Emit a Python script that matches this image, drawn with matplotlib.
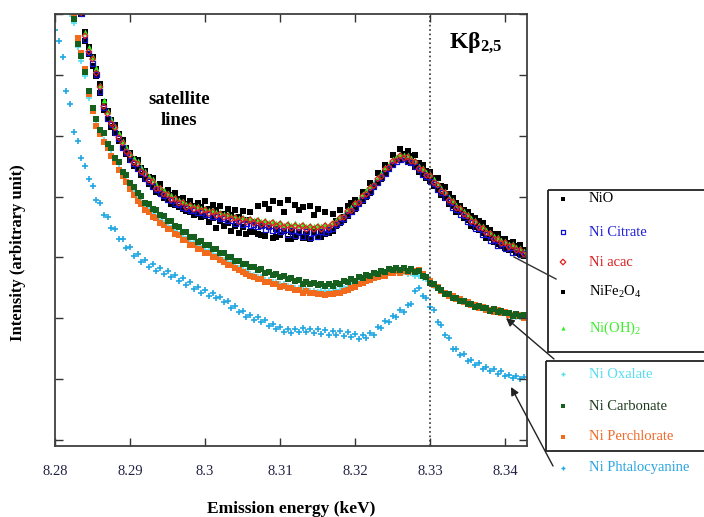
import numpy as np
import matplotlib
matplotlib.use("Agg")
import matplotlib.pyplot as plt
from matplotlib.patches import Rectangle

plt.rcParams['font.family'] = ['Liberation Serif', 'DejaVu Serif']
plt.rcParams['mathtext.fontset'] = 'custom'
plt.rcParams['mathtext.rm'] = 'Liberation Serif'
plt.rcParams['mathtext.bf'] = 'Liberation Serif:bold'
plt.rcParams['mathtext.it'] = 'Liberation Serif:italic'

# emission energy grid (keV), 0.0005 keV steps
energy = np.linspace(8.2800, 8.3425, 126)

nio = [9.0, 8.7, 8.4, 8.1, 7.8, 7.5, 7.3, 7.0, 6.70, 6.35,
       6.30, 5.98, 5.85, 5.42, 5.40, 5.15, 5.18, 4.92, 4.93, 4.70,
       4.72, 4.50, 4.60, 4.36, 4.42, 4.20, 4.30, 4.08, 4.20, 3.98,
       4.10, 3.88, 4.05, 3.82, 3.98, 3.76, 3.93, 3.70, 3.90, 3.66,
       3.92, 3.58, 3.86, 3.48, 3.84, 3.52, 3.80, 3.44, 3.78, 3.40,
       3.76, 3.38, 3.74, 3.42, 3.84, 3.36, 3.88, 3.80, 3.92, 3.34,
       3.90, 3.74, 3.94, 3.30, 3.86, 3.78, 3.82, 3.32, 3.85, 3.70,
       3.80, 3.34, 3.74, 3.40, 3.72, 3.60, 3.78, 3.66, 3.84, 3.90,
       3.95, 3.90, 4.08, 4.00, 4.22, 4.15, 4.38, 4.28, 4.52, 4.45,
       4.68, 4.60, 4.78, 4.62, 4.75, 4.55, 4.68, 4.40, 4.52, 4.30,
       4.40, 4.18, 4.30, 4.02, 4.15, 3.88, 3.98, 3.75, 3.85, 3.65,
       3.75, 3.52, 3.64, 3.45, 3.56, 3.32, 3.45, 3.25, 3.38, 3.18,
       3.30, 3.12, 3.25, 3.08, 3.20, 3.02]

ni_citrate = [9.0, 8.7, 8.4, 8.1, 7.8, 7.5, 7.2, 7.0, 6.58, 6.36,
              6.18, 6.00, 5.72, 5.46, 5.28, 5.18, 5.05, 4.95, 4.80, 4.72,
              4.60, 4.54, 4.46, 4.39, 4.29, 4.25, 4.16, 4.11, 4.05, 4.02,
              3.95, 3.93, 3.88, 3.87, 3.82, 3.80, 3.77, 3.77, 3.73, 3.74,
              3.70, 3.70, 3.67, 3.67, 3.63, 3.64, 3.60, 3.61, 3.56, 3.58,
              3.54, 3.56, 3.52, 3.54, 3.50, 3.52, 3.46, 3.50, 3.44, 3.46,
              3.42, 3.45, 3.38, 3.44, 3.36, 3.42, 3.34, 3.42, 3.32, 3.40,
              3.34, 3.42, 3.40, 3.46, 3.48, 3.54, 3.58, 3.64, 3.70, 3.76,
              3.82, 3.88, 3.95, 4.02, 4.08, 4.16, 4.23, 4.31, 4.38, 4.46,
              4.52, 4.58, 4.60, 4.62, 4.58, 4.56, 4.50, 4.44, 4.36, 4.33,
              4.25, 4.21, 4.11, 4.07, 3.98, 3.92, 3.82, 3.78, 3.70, 3.68,
              3.58, 3.57, 3.48, 3.47, 3.38, 3.38, 3.28, 3.30, 3.20, 3.22,
              3.14, 3.16, 3.08, 3.12, 3.04, 3.06]

ni_acac = [9.0, 8.7, 8.4, 8.1, 7.8, 7.5, 7.2, 7.02, 6.64, 6.38,
           6.26, 6.03, 5.80, 5.48, 5.36, 5.20, 5.13, 4.97, 4.88, 4.74,
           4.68, 4.56, 4.54, 4.41, 4.37, 4.27, 4.24, 4.13, 4.13, 4.04,
           4.03, 3.95, 3.96, 3.89, 3.90, 3.82, 3.85, 3.79, 3.81, 3.76,
           3.78, 3.72, 3.75, 3.69, 3.71, 3.66, 3.68, 3.63, 3.65, 3.59,
           3.63, 3.58, 3.62, 3.56, 3.60, 3.54, 3.58, 3.53, 3.57, 3.51,
           3.55, 3.49, 3.53, 3.48, 3.52, 3.48, 3.52, 3.46, 3.50, 3.46,
           3.50, 3.46, 3.52, 3.49, 3.55, 3.56, 3.65, 3.66, 3.76, 3.77,
           3.88, 3.90, 4.01, 4.04, 4.14, 4.18, 4.29, 4.33, 4.45, 4.48,
           4.58, 4.59, 4.67, 4.63, 4.65, 4.58, 4.57, 4.46, 4.44, 4.35,
           4.34, 4.23, 4.19, 4.09, 4.06, 3.94, 3.91, 3.81, 3.80, 3.71,
           3.68, 3.59, 3.58, 3.49, 3.48, 3.40, 3.39, 3.30, 3.30, 3.23,
           3.24, 3.17, 3.19, 3.12, 3.12, 3.05]

nife2o4 = [9.1, 8.8, 8.5, 8.2, 7.9, 7.6, 7.3, 7.1, 6.55, 6.45,
           6.15, 6.10, 5.70, 5.55, 5.28, 5.25, 5.05, 5.02, 4.80, 4.80,
           4.60, 4.62, 4.45, 4.47, 4.28, 4.32, 4.15, 4.18, 4.05, 4.08,
           3.95, 4.02, 3.86, 3.96, 3.80, 3.88, 3.75, 3.84, 3.72, 3.82,
           3.68, 3.80, 3.64, 3.78, 3.60, 3.72, 3.56, 3.70, 3.52, 3.66,
           3.50, 3.62, 3.42, 3.58, 3.38, 3.52, 3.35, 3.50, 3.32, 3.46,
           3.36, 3.44, 3.30, 3.42, 3.34, 3.40, 3.32, 3.38, 3.30, 3.42,
           3.34, 3.40, 3.38, 3.46, 3.44, 3.52, 3.56, 3.62, 3.68, 3.74,
           3.80, 3.88, 3.92, 4.02, 4.06, 4.16, 4.22, 4.32, 4.38, 4.48,
           4.52, 4.62, 4.60, 4.70, 4.58, 4.66, 4.48, 4.55, 4.36, 4.42,
           4.26, 4.30, 4.12, 4.18, 3.98, 4.04, 3.84, 3.90, 3.74, 3.78,
           3.62, 3.68, 3.50, 3.60, 3.40, 3.48, 3.32, 3.38, 3.22, 3.30,
           3.16, 3.24, 3.12, 3.18, 3.05, 3.12]

ni_oh2 = [9.0, 8.7, 8.4, 8.1, 7.8, 7.5, 7.25, 7.08, 6.70, 6.46,
          6.30, 6.12, 5.84, 5.58, 5.40, 5.28, 5.16, 5.05, 4.92, 4.82,
          4.72, 4.63, 4.58, 4.48, 4.42, 4.34, 4.28, 4.20, 4.16, 4.11,
          4.06, 4.02, 3.99, 3.95, 3.93, 3.88, 3.88, 3.85, 3.84, 3.81,
          3.81, 3.78, 3.78, 3.75, 3.74, 3.71, 3.71, 3.68, 3.68, 3.64,
          3.66, 3.63, 3.65, 3.61, 3.63, 3.59, 3.61, 3.58, 3.60, 3.56,
          3.58, 3.54, 3.56, 3.53, 3.56, 3.53, 3.55, 3.51, 3.54, 3.51,
          3.53, 3.51, 3.55, 3.54, 3.58, 3.62, 3.68, 3.72, 3.79, 3.83,
          3.91, 3.96, 4.04, 4.10, 4.17, 4.24, 4.32, 4.39, 4.48, 4.54,
          4.61, 4.65, 4.70, 4.68, 4.68, 4.63, 4.60, 4.51, 4.47, 4.40,
          4.37, 4.28, 4.22, 4.14, 4.09, 3.99, 3.94, 3.86, 3.83, 3.76,
          3.71, 3.64, 3.61, 3.54, 3.51, 3.45, 3.42, 3.35, 3.33, 3.28,
          3.27, 3.22, 3.22, 3.17, 3.15, 3.10]

ni_oxalate = [8.1, 7.8, 7.5, 7.25, 7.0, 6.85, 6.45, 6.22, 5.98, 5.62,
              5.40, 5.18, 5.05, 4.93, 4.80, 4.70, 4.58, 4.47, 4.36, 4.26,
              4.15, 4.07, 3.98, 3.91, 3.83, 3.78, 3.72, 3.67, 3.61, 3.57,
              3.51, 3.49, 3.43, 3.39, 3.33, 3.31, 3.25, 3.23, 3.18, 3.16,
              3.12, 3.10, 3.05, 3.03, 2.99, 2.96, 2.92, 2.90, 2.86, 2.83,
              2.80, 2.77, 2.73, 2.71, 2.68, 2.67, 2.63, 2.63, 2.60, 2.59,
              2.56, 2.56, 2.53, 2.52, 2.50, 2.49, 2.47, 2.47, 2.45, 2.45,
              2.43, 2.44, 2.43, 2.44, 2.44, 2.46, 2.47, 2.49, 2.51, 2.54,
              2.56, 2.60, 2.62, 2.66, 2.67, 2.70, 2.71, 2.74, 2.74, 2.77,
              2.76, 2.78, 2.74, 2.76, 2.72, 2.74, 2.70, 2.70, 2.66, 2.64,
              2.58, 2.53, 2.49, 2.44, 2.41, 2.37, 2.35, 2.31, 2.30, 2.26,
              2.25, 2.21, 2.20, 2.17, 2.16, 2.14, 2.13, 2.11, 2.11, 2.08,
              2.08, 2.05, 2.04, 2.02, 2.02, 2.00]

ni_carbonate = [8.2, 7.9, 7.6, 7.35, 7.12, 6.92, 6.50, 6.31, 6.05, 5.74,
                5.45, 5.28, 5.10, 5.04, 4.87, 4.80, 4.64, 4.57, 4.41, 4.36,
                4.22, 4.16, 4.05, 4.01, 3.90, 3.88, 3.79, 3.78, 3.69, 3.68,
                3.59, 3.60, 3.51, 3.50, 3.41, 3.42, 3.33, 3.34, 3.26, 3.27,
                3.20, 3.21, 3.13, 3.14, 3.07, 3.07, 3.00, 3.01, 2.94, 2.94,
                2.89, 2.89, 2.84, 2.84, 2.79, 2.81, 2.74, 2.76, 2.71, 2.73,
                2.67, 2.70, 2.64, 2.66, 2.61, 2.63, 2.57, 2.60, 2.56, 2.58,
                2.54, 2.57, 2.53, 2.57, 2.53, 2.58, 2.56, 2.61, 2.59, 2.65,
                2.62, 2.68, 2.66, 2.71, 2.69, 2.75, 2.72, 2.78, 2.76, 2.81,
                2.79, 2.83, 2.80, 2.83, 2.78, 2.81, 2.76, 2.78, 2.70, 2.67,
                2.58, 2.56, 2.49, 2.46, 2.40, 2.39, 2.34, 2.34, 2.29, 2.29,
                2.24, 2.24, 2.19, 2.20, 2.16, 2.17, 2.12, 2.15, 2.11, 2.12,
                2.08, 2.09, 2.04, 2.07, 2.03, 2.05]

ni_perchlorate = [8.3, 8.0, 7.7, 7.4, 7.15, 6.95, 6.60, 6.36, 6.10, 5.68,
                  5.40, 5.16, 5.02, 4.90, 4.79, 4.66, 4.56, 4.44, 4.34, 4.24,
                  4.12, 4.03, 3.93, 3.87, 3.78, 3.74, 3.67, 3.64, 3.57, 3.54,
                  3.47, 3.46, 3.39, 3.36, 3.29, 3.28, 3.21, 3.20, 3.14, 3.13,
                  3.08, 3.07, 3.01, 3.00, 2.95, 2.93, 2.88, 2.87, 2.82, 2.80,
                  2.76, 2.73, 2.69, 2.67, 2.64, 2.64, 2.59, 2.60, 2.56, 2.56,
                  2.52, 2.53, 2.49, 2.49, 2.46, 2.46, 2.42, 2.44, 2.41, 2.41,
                  2.39, 2.40, 2.38, 2.40, 2.39, 2.42, 2.42, 2.45, 2.46, 2.50,
                  2.52, 2.57, 2.58, 2.62, 2.63, 2.66, 2.67, 2.70, 2.70, 2.74,
                  2.74, 2.77, 2.75, 2.78, 2.76, 2.80, 2.78, 2.79, 2.72, 2.68,
                  2.61, 2.54, 2.51, 2.44, 2.42, 2.37, 2.36, 2.31, 2.31, 2.26,
                  2.26, 2.21, 2.21, 2.17, 2.18, 2.14, 2.14, 2.11, 2.13, 2.08,
                  2.10, 2.06, 2.06, 2.03, 2.05, 2.01]

ni_phtalocyanine = [6.73, 6.55, 6.30, 5.74, 5.52, 5.06, 4.92, 4.64, 4.50, 4.28,
                    4.18, 3.95, 3.89, 3.70, 3.66, 3.49, 3.46, 3.31, 3.31, 3.16,
                    3.17, 3.03, 3.05, 2.93, 2.95, 2.85, 2.89, 2.78, 2.82, 2.73,
                    2.77, 2.68, 2.71, 2.61, 2.66, 2.55, 2.59, 2.48, 2.51, 2.42,
                    2.47, 2.37, 2.42, 2.33, 2.35, 2.26, 2.28, 2.17, 2.20, 2.10,
                    2.12, 2.02, 2.05, 1.97, 2.02, 1.94, 1.97, 1.87, 1.90, 1.83,
                    1.85, 1.78, 1.82, 1.76, 1.82, 1.77, 1.84, 1.78, 1.82, 1.76,
                    1.82, 1.74, 1.80, 1.73, 1.79, 1.73, 1.79, 1.71, 1.77, 1.69,
                    1.74, 1.66, 1.72, 1.67, 1.75, 1.73, 1.85, 1.84, 1.95, 1.94,
                    2.04, 2.02, 2.13, 2.11, 2.21, 2.24, 2.44, 2.49, 2.37, 2.33,
                    2.19, 2.13, 1.94, 1.89, 1.73, 1.67, 1.50, 1.49, 1.40, 1.41,
                    1.30, 1.32, 1.23, 1.26, 1.17, 1.20, 1.14, 1.16, 1.09, 1.13,
                    1.05, 1.07, 1.01, 1.05, 1.00, 1.03]

# name, values, marker, colour, filled, size (scatter s)
series = [
    ("Ni Phtalocyanine", ni_phtalocyanine, '+', '#1fa7e2', True, 20),
    ("Ni Oxalate", ni_oxalate, '+', '#55ddf0', True, 20),
    ("Ni Perchlorate", ni_perchlorate, 's', '#f26a1b', True, 15),
    ("Ni Carbonate", ni_carbonate, 's', '#15601f', True, 15),
    ("NiFe$_2$O$_4$", nife2o4, 's', '#000000', True, 14),
    ("NiO", nio, 's', '#000000', True, 14),
    ("Ni(OH)$_2$", ni_oh2, '^', '#2ef020', True, 18),
    ("Ni Citrate", ni_citrate, 's', '#1010d0', False, 12),
    ("Ni acac", ni_acac, 'D', '#e02020', False, 8),
]

fig = plt.figure(figsize=(7.04, 5.17), dpi=100)
ax = fig.add_axes([55 / 704, 71 / 517, 472 / 704, 432 / 517])

for name, vals, m, c, filled, s in series:
    if m == '+':
        ax.scatter(energy, vals, marker=m, s=s, color=c, linewidths=1.2)
    elif filled:
        ax.scatter(energy, vals, marker=m, s=s, color=c, linewidths=0)
    else:
        ax.scatter(energy, vals, marker=m, s=s, facecolors='none',
                   edgecolors=c, linewidths=0.9)

ax.axvline(8.33, color='#333333', ls=':', lw=1.2)

ax.set_xlim(8.28, 8.3429)
ax.set_ylim(-0.1, 7.0)
ax.set_xticks([8.28, 8.29, 8.30, 8.31, 8.32, 8.33, 8.34])
ax.set_xticklabels(['8.28', '8.29', '8.3', '8.31', '8.32', '8.33', '8.34'])
ax.set_yticks(range(8))
ax.set_yticklabels([])
ax.tick_params(direction='in', top=True, right=True, length=6, width=1,
               color='#333333', labelsize=10.5, pad=14, labelcolor='#222244')
for sp in ax.spines.values():
    sp.set_color('#404040')
    sp.set_linewidth(1.3)

ax.set_xlabel("Emission energy (keV)", fontsize=12.5, fontweight='bold',
              labelpad=16)
fig.text(18 / 704, 1 - 253 / 517, "Intensity (arbitrary unit)", rotation=90,
         fontsize=12, fontweight='bold', ha='center', va='center')

ax.text(8.2965, 5.42, "satellite\nlines", fontsize=13.5, fontweight='bold',
        ha='center', va='center', linespacing=1.3)
ax.text(8.3325, 6.52, r"$\mathbf{K\beta_{2{,}5}}$", fontsize=17,
        ha='left', va='center')

# legend panel drawn in figure pixels
ov = fig.add_axes([0, 0, 1, 1], facecolor='none')
ov.set_xlim(0, 704)
ov.set_ylim(517, 0)
ov.axis('off')

ov.add_patch(Rectangle((548, 190), 170, 162, fill=False, ec='#222222', lw=1.3))
ov.add_patch(Rectangle((546, 361), 170, 90, fill=False, ec='#222222', lw=1.3))

legend_rows = [
    ("NiO", 199, 's', '#000000', True, '#000000'),
    ("Ni Citrate", 232, 's', '#1010d0', False, '#2020d8'),
    ("Ni acac", 262, 'D', '#e02020', False, '#d82020'),
    ("NiFe$_2$O$_4$", 292, 's', '#000000', True, '#000000'),
    ("Ni(OH)$_2$", 328, '^', '#2ef020', True, '#3cee2c'),
    ("Ni Oxalate", 374, '+', '#55ddf0', True, '#55ddf0'),
    ("Ni Carbonate", 406, 's', '#15601f', True, '#1e3a1e'),
    ("Ni Perchlorate", 437, 's', '#f26a1b', True, '#f06a28'),
    ("Ni Phtalocyanine", 468, '+', '#1fa7e2', True, '#2aa4e0'),
]
for label, y, m, c, filled, tc in legend_rows:
    if m == '+':
        ov.scatter([563], [y], marker=m, s=12, color=c, linewidths=1)
    elif filled:
        ov.scatter([563], [y], marker=m, s=9, color=c, linewidths=0)
    else:
        ov.scatter([563], [y], marker=m, s=8, facecolors='none',
                   edgecolors=c, linewidths=0.9)
    ov.text(589, y, label, color=tc, fontsize=10.5, va='center', ha='left')

ov.plot([514, 556], [257, 279], color='#333333', lw=1)
ov.annotate("", xy=(506, 318), xytext=(554, 359),
            arrowprops=dict(arrowstyle='-|>', color='#222222', lw=1,
                            mutation_scale=12, shrinkA=0, shrinkB=0))
ov.annotate("", xy=(511, 387), xytext=(553, 466),
            arrowprops=dict(arrowstyle='-|>', color='#222222', lw=1,
                            mutation_scale=12, shrinkA=0, shrinkB=0))

fig.savefig("out.png", dpi=100)
